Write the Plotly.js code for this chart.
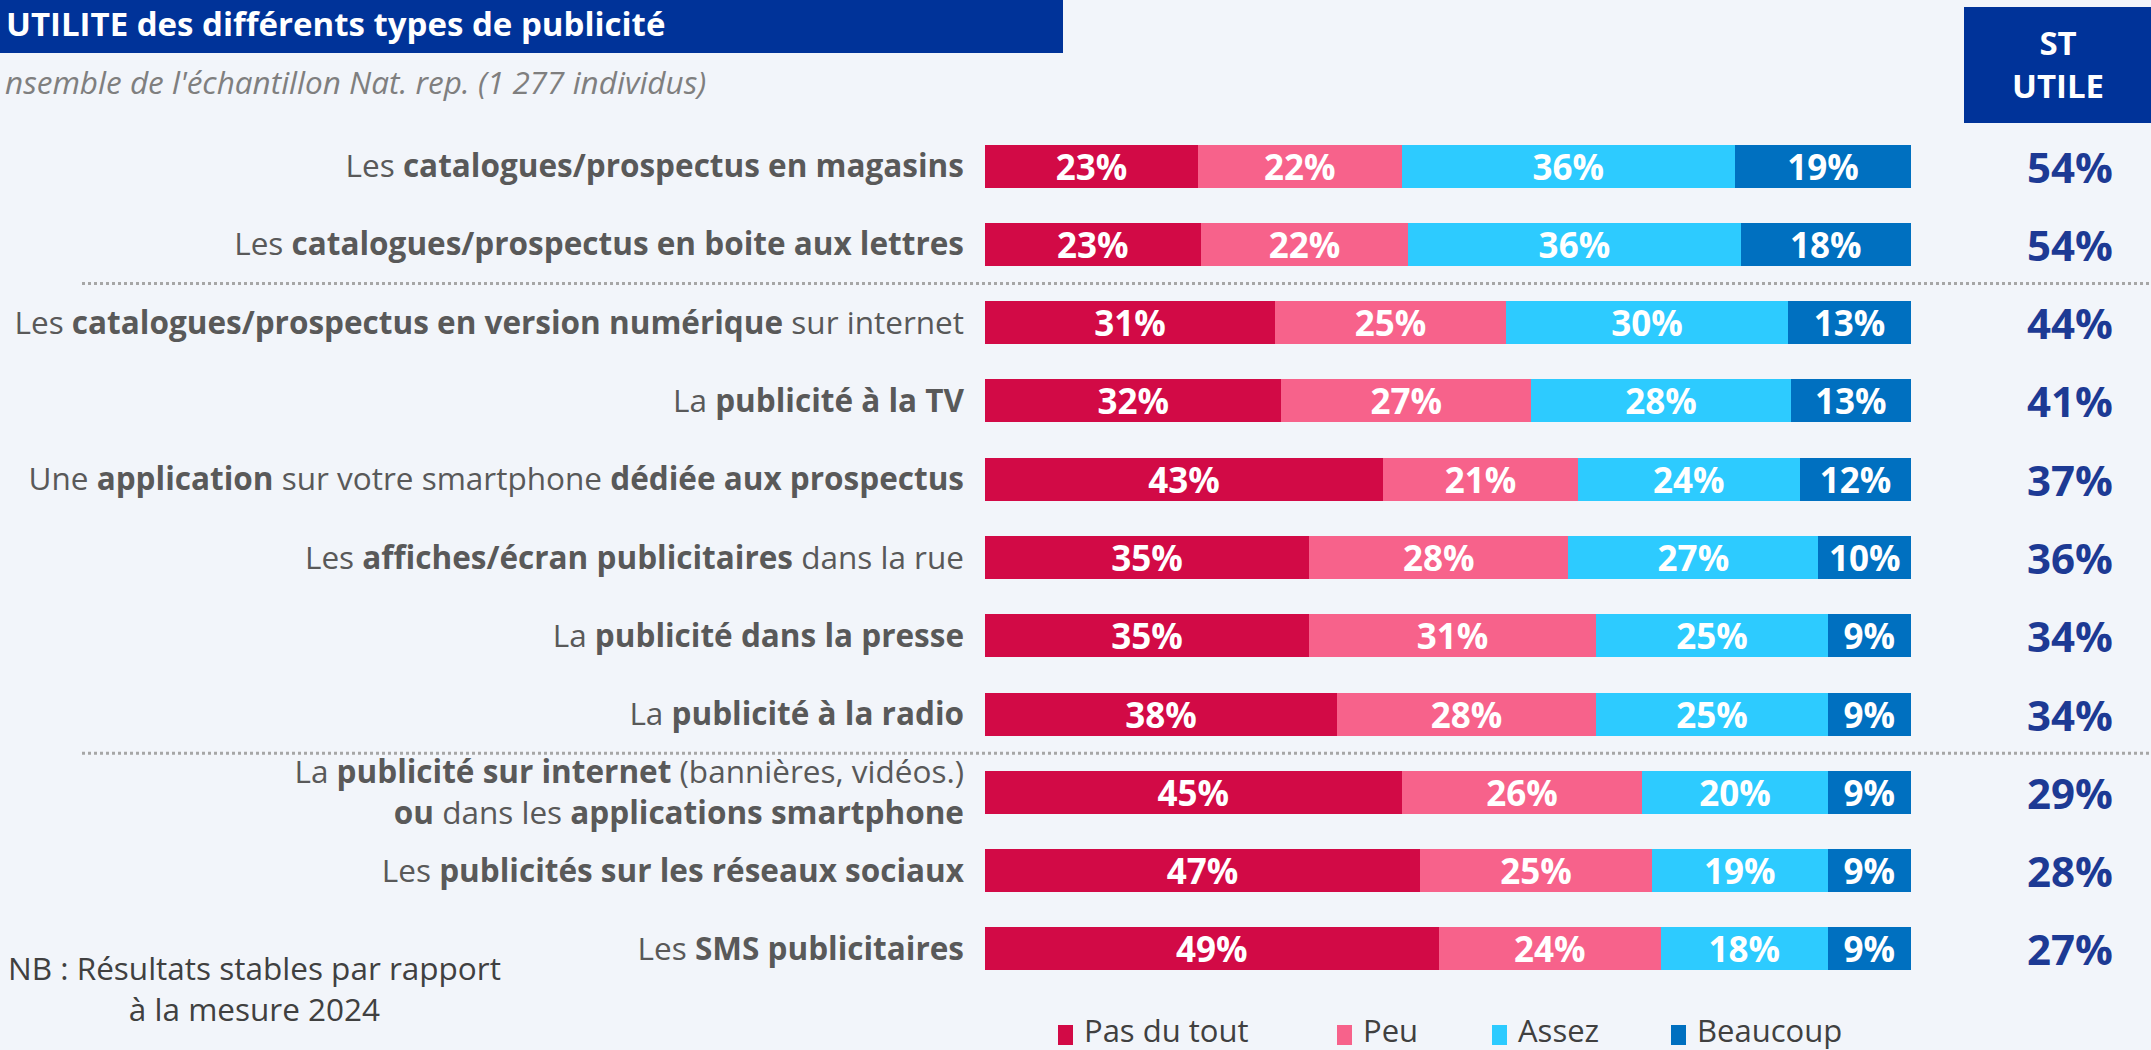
<!DOCTYPE html>
<html>
<head>
<meta charset="utf-8">
<script src="https://cdn.plot.ly/plotly-3.0.1.min.js"></script>
<style>
html,body{margin:0;padding:0;background:#F2F5FA;}
#chart{width:2151px;height:1050px;}
</style>
</head>
<body>
<div id="chart"></div>
<script>
const categories = [
  'Les <b>catalogues/prospectus en magasins</b>',
  'Les <b>catalogues/prospectus en boite aux lettres</b>',
  'Les <b>catalogues/prospectus en version numérique</b> sur internet',
  'La <b>publicité à la TV</b>',
  'Une <b>application</b> sur votre smartphone <b>dédiée aux prospectus</b>',
  'Les <b>affiches/écran publicitaires</b> dans la rue',
  'La <b>publicité dans la presse</b>',
  'La <b>publicité à la radio</b>',
  'La <b>publicité sur internet</b> (bannières, vidéos.)<br><b>ou</b> dans les <b>applications smartphone</b>',
  'Les <b>publicités sur les réseaux sociaux</b>',
  'Les <b>SMS publicitaires</b>'
];
const seriesNames = ['Pas du tout', 'Peu', 'Assez', 'Beaucoup'];
const pasDuTout = [23, 23.3, 31.3, 32, 43, 35, 35, 38, 45, 47, 49];
const peu       = [22, 22.4, 25.0, 27, 21, 28, 31, 28, 26, 25, 24];
const assez     = [36, 35.9, 30.4, 28, 24, 27, 25, 25, 20, 19, 18];
const beaucoup  = [19, 18.4, 13.3, 13, 12, 10,  9,  9,  9,  9,  9];
const stUtile   = [54, 54, 44, 41, 37, 36, 34, 34, 29, 28, 27];
const titleText = 'UTILITE des différents types de publicité';
const subtitleText = "nsemble de l'échantillon Nat. rep. (1 277 individus)";
const stHeader = 'ST<br>UTILE';
const noteText = 'NB : Résultats stables par rapport<br>à la mesure 2024';

const colors = ['#D20A46', '#F7628B', '#2DCBFF', '#0070C0'];
const FONT = '"Open Sans", Lato, sans-serif';

// pixel helpers (layout only)
const L = 985, R = 1911, T = 127, B = 988;
const px2x = p => (p - L) / (R - L);
const px2y = p => (B - p) / (B - T);

const values = [pasDuTout, peu, assez, beaucoup];
const traces = values.map((v, i) => ({
  type: 'bar',
  orientation: 'h',
  name: seriesNames[i],
  y: categories,
  x: v,
  marker: {color: colors[i], line: {width: 0}},
  texttemplate: '%{x:.0f}%',
  textposition: 'inside',
  insidetextanchor: 'middle',
  constraintext: 'none',
  textfont: {family: FONT, size: 35, color: '#FFFFFF', weight: 'bold'},
  hoverinfo: 'skip',
  showlegend: false
}));

const annotations = [];
annotations.push({
  xref: 'paper', yref: 'paper', x: px2x(3), y: px2y(82),
  xanchor: 'left', yanchor: 'middle', showarrow: false,
  text: '<i>' + subtitleText + '</i>',
  font: {family: FONT, size: 31.5, color: '#7F7F7F'}
});
annotations.push({
  xref: 'paper', yref: 'paper', x: px2x(2058), y: px2y(64),
  xanchor: 'center', yanchor: 'middle', showarrow: false,
  text: '<b>' + stHeader + '</b>',
  font: {family: FONT, size: 33, color: '#FFFFFF'}
});
categories.forEach((c, i) => {
  annotations.push({
    xref: 'paper', yref: 'y', x: px2x(2070), y: c,
    xanchor: 'center', yanchor: 'middle', showarrow: false,
    text: '<b>' + stUtile[i] + '%</b>',
    font: {family: FONT, size: 42, color: '#1D3A94'}
  });
});
annotations.push({
  xref: 'paper', yref: 'paper', x: px2x(254), y: px2y(988),
  xanchor: 'center', yanchor: 'middle', showarrow: false, align: 'center',
  text: noteText,
  font: {family: FONT, size: 31.5, color: '#404040'}
});

const legendSquareX = [1058, 1337, 1492, 1671];
const shapes = [];
seriesNames.forEach((n, i) => {
  shapes.push({
    type: 'rect', xref: 'paper', yref: 'paper',
    x0: px2x(legendSquareX[i]), x1: px2x(legendSquareX[i] + 15),
    y0: px2y(1045), y1: px2y(1025),
    fillcolor: colors[i], line: {width: 0}
  });
  annotations.push({
    xref: 'paper', yref: 'paper', x: px2x(legendSquareX[i] + 24), y: px2y(1030),
    xanchor: 'left', yanchor: 'middle', showarrow: false,
    text: n, font: {family: FONT, size: 31, color: '#404040'}
  });
});

// title bar & ST box
shapes.push({type: 'rect', xref: 'paper', yref: 'paper', layer: 'below',
  x0: px2x(0), x1: px2x(1063), y0: px2y(53), y1: px2y(0),
  fillcolor: '#003399', line: {width: 0}});
shapes.push({type: 'rect', xref: 'paper', yref: 'paper', layer: 'below',
  x0: px2x(1964), x1: px2x(2151), y0: px2y(123), y1: px2y(7),
  fillcolor: '#003399', line: {width: 0}});
// dotted separators
[1.5, 7.5].forEach(yv => {
  shapes.push({type: 'line', xref: 'paper', yref: 'y',
    x0: px2x(82), x1: px2x(2151), y0: yv, y1: yv,
    line: {color: '#A6A6A6', width: 3, dash: 'dot'}});
});

const layout = {
  width: 2151, height: 1050,
  paper_bgcolor: '#F2F5FA', plot_bgcolor: '#F2F5FA',
  margin: {l: L, r: 2151 - R, t: T, b: 1050 - B, pad: 0},
  barmode: 'stack', bargap: 0.45,
  showlegend: false,
  title: {
    text: '<b>' + titleText + '</b>',
    x: 0, xref: 'container', xanchor: 'left',
    y: 1 - 24 / 1050, yref: 'container', yanchor: 'middle',
    pad: {l: 6, t: 0, r: 0, b: 0},
    font: {family: FONT, size: 33, color: '#FFFFFF'}
  },
  xaxis: {range: [0, 100], visible: false, fixedrange: true},
  yaxis: {
    type: 'category', categoryarray: categories, categoryorder: 'array',
    autorange: 'reversed', showgrid: false, zeroline: false, showline: false,
    ticks: '', ticklen: 0, ticklabelstandoff: 20,
    tickfont: {family: FONT, size: 31.5, color: '#595959'},
    fixedrange: true
  },
  annotations: annotations,
  shapes: shapes,
  font: {family: FONT}
};

Plotly.newPlot('chart', traces, layout, {displayModeBar: false, staticPlot: true});
</script>
</body>
</html>
